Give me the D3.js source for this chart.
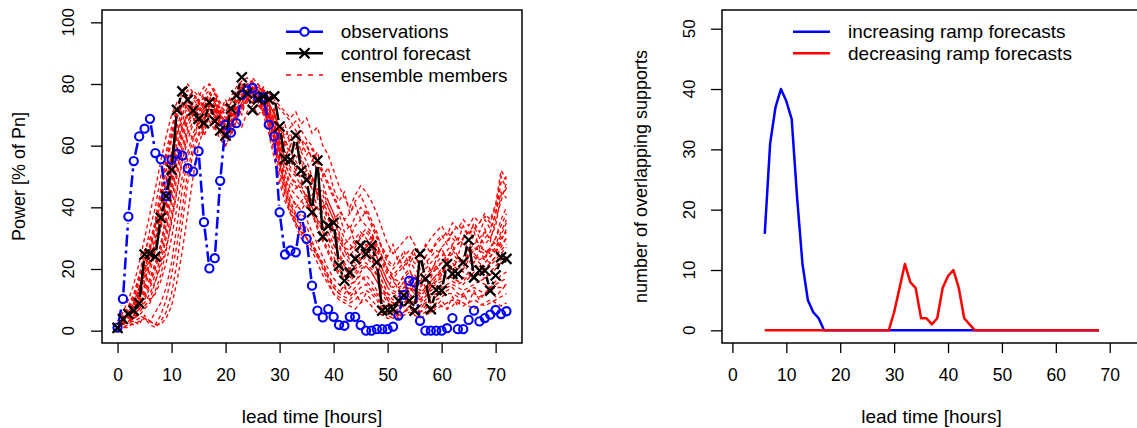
<!DOCTYPE html>
<html>
<head>
<meta charset="utf-8">
<script src="https://cdn.jsdelivr.net/npm/d3@7"></script>
<style>
body { margin: 0; background: #fff; }
svg { display: block; font-family: "Liberation Sans", Arial, Helvetica, sans-serif; }
</style>
</head>
<body>
<script>
// lead times (hours) for the left panel
var leadTimes = d3.range(0, 73);

// observed power, % of Pn
var observations = [1, 10.3, 37, 55, 63, 65.5, 68.7, 57.6, 55.6, 43.6,
    55.4, 57.4, 56.8, 52.7, 51.6, 58.2, 35.2, 20.2, 23.5, 48.6,
    66.8, 64.2, 67.3, 76.5, 77.9, 78.7, 75.7, 75.7, 66.8, 63,
    38.4, 24.7, 26, 25.4, 37.3, 29.8, 14.6, 6.5, 4.3, 7,
    4.5, 1.9, 1.6, 4.5, 4.5, 1.8, 0, 0, 0.5, 0.5,
    0.5, 1.3, 4.9, 11.6, 16.2, 15.7, 3.2, 0, 0, 0,
    0, 0.8, 4.1, 0.5, 0.5, 3.5, 6.5, 3, 4.1, 5.2,
    6.7, 5.4, 6.3];

// control forecast
var controlForecast = [0.9, 3.8, 5.4, 6.5, 8.9, 24.7, 25, 24, 36.6, 43.6,
    52.2, 71.6, 77.6, 74.9, 71.4, 68.7, 67.3, 74, 68, 64.9,
    63.3, 72, 76.3, 82.2, 77, 71.6, 75, 76, 75, 76,
    66.2, 55.7, 55.4, 63.3, 51.9, 48.9, 38.4, 55.2, 30.5, 34,
    35, 21.1, 16.2, 18.9, 23.3, 27.6, 24.9, 27.6, 22.2, 6.5,
    6.7, 7, 9.7, 11.4, 9.7, 6.5, 24.9, 16.8, 7, 13.2,
    13, 21.6, 18.4, 18.4, 22.2, 29.4, 17.3, 19.5, 19.5, 13,
    17.9, 23.8, 23.3];

// ensemble members (read approximately from the band)
var ensembleMembers = [
  [2,4,7,10,16,24,33,40,50,58, 66,72,76,78,75,73,76,78,74,70, 72,75,78,80,79,78,79,77,74,70,
   66,63,66,68,65,62,60,55,52,48, 44,40,36,38,42,44,40,36,32,26, 22,20,22,24,26,24,22,24,26,28,
   30,32,30,28,30,32,34,30,28,30, 34,44,46],
  [0,1,2,2,3,4,3,2,5,10, 18,28,40,52,60,64,66,70,68,64, 60,64,68,72,74,76,74,72,68,62,
   55,48,42,38,34,30,28,25,20,16, 12,10,9,8,7,9,10,8,6,5, 4,4,5,6,7,6,5,6,8,9,
   8,7,8,10,9,8,7,8,9,10, 9,8,9],
  [1,3,5,8,12,18,24,30,38,46, 56,64,70,74,73,70,72,75,72,68, 67,71,74,76,78,79,77,76,73,68,
   60,54,50,48,46,44,40,36,34,30, 26,22,20,18,20,22,24,22,18,14, 10,9,10,12,14,12,10,12,14,16,
   18,20,22,20,21,22,24,22,20,22, 24,26,28],
  [2,5,8,12,18,26,30,34,42,52, 62,70,74,72,69,66,68,72,70,66, 64,66,70,74,76,77,78,74,70,64,
   58,52,46,44,42,40,44,46,42,38, 32,28,24,26,30,32,30,27,24,20, 16,14,15,18,20,16,14,16,18,20,
   22,24,26,24,22,24,26,28,26,24, 26,30,32],
  [1,2,4,6,9,13,17,22,28,36, 46,56,64,70,74,75,73,70,66,62, 60,63,68,72,75,76,74,70,64,56,
   48,42,38,35,32,30,28,24,22,18, 15,13,12,14,16,18,16,14,12,9, 7,6,7,9,10,9,8,9,11,12,
   13,14,15,14,13,14,15,16,15,14, 16,18,19],
  [1,3,6,9,14,20,26,32,40,48, 58,66,72,76,77,74,72,74,76,72, 70,72,76,79,80,80,79,78,76,74,
   72,70,68,65,62,60,56,52,48,42, 38,32,28,30,34,36,34,32,28,24, 20,18,20,22,24,22,20,22,24,26,
   25,24,26,28,30,32,30,28,30,32, 38,48,50],
  [0,2,3,5,7,10,14,18,24,32, 42,52,60,66,70,72,74,76,73,69, 68,72,75,78,80,78,76,74,70,65,
   58,52,48,46,48,50,46,40,36,32, 28,24,21,20,24,28,26,24,20,16, 12,10,11,13,16,14,12,13,15,17,
   19,21,20,18,20,23,22,20,22,24, 26,28,30],
  [1,2,3,4,6,8,10,12,16,22, 30,40,50,58,64,68,70,72,70,67, 64,66,70,73,75,75,73,71,68,62,
   54,46,40,36,38,36,32,28,24,20, 17,15,14,12,14,16,18,16,13,10, 8,6,5,6,8,7,6,7,9,10,
   11,12,12,11,12,13,12,11,12,13, 14,14,15],
  [2,4,6,9,13,19,26,34,44,54, 63,69,73,75,72,69,71,74,71,67, 66,69,72,76,77,76,75,73,70,66,
   62,58,55,52,49,46,42,39,40,42, 38,34,30,28,26,25,27,29,26,22, 18,16,14,15,17,18,16,18,20,22,
   24,26,28,30,28,26,28,30,32,30, 28,32,36],
  [1,2,4,5,8,11,15,20,26,34, 44,54,62,68,71,72,74,77,75,71, 69,70,73,75,76,78,80,77,72,66,
   60,55,52,50,47,43,38,34,30,26, 22,19,17,16,18,20,21,19,16,12, 9,8,9,11,12,10,9,11,13,14,
   15,17,18,16,15,17,19,18,17,18, 20,22,24],
  [1,2,3,3,4,4,3,2,2,4, 8,16,26,38,50,60,66,70,72,70, 66,68,72,76,78,77,75,72,66,58,
   50,44,38,34,30,28,26,22,18,15, 12,11,10,9,10,12,13,12,10,7, 5,4,4,5,6,5,4,5,6,7,
   8,9,10,9,8,9,10,9,8,9, 10,11,12],
  [2,4,7,11,17,22,28,36,46,56, 64,71,78,80,77,74,77,80,78,74, 73,76,79,81,82,80,78,76,72,68,
   64,60,58,56,58,55,50,46,44,40, 36,31,27,24,27,30,32,30,27,23, 19,17,19,21,23,20,18,20,22,24,
   27,29,32,34,33,31,33,35,37,35, 40,50,46],
  [1,3,4,6,10,14,19,26,33,40, 48,58,66,71,75,77,75,73,70,65, 63,67,71,74,77,79,78,75,71,67,
   63,60,62,60,56,52,48,44,40,36, 33,30,26,23,22,24,26,25,22,18, 14,12,12,14,15,13,11,13,15,16,
   17,19,21,22,24,26,25,23,24,26, 30,36,40],
  [0,1,2,4,5,7,9,13,18,26, 36,46,56,64,68,70,71,73,72,68, 65,67,71,74,76,77,76,74,70,64,
   57,50,44,40,42,44,40,36,32,28, 24,20,18,17,19,21,22,20,18,14, 11,9,8,9,11,10,8,10,12,13,
   14,15,16,15,16,18,17,16,17,19, 21,23,24],
  [2,3,5,8,11,16,22,28,35,42, 52,61,67,70,69,67,69,72,69,64, 62,65,69,73,75,74,73,72,69,64,
   59,54,50,47,45,42,38,35,33,30, 28,25,22,20,21,23,25,23,20,16, 12,11,12,14,16,15,13,14,16,18,
   20,22,23,22,23,25,27,26,25,27, 30,34,38],
  [1,2,5,7,9,12,16,21,28,38, 48,57,64,68,70,71,73,75,74,70, 68,71,75,78,79,78,77,76,74,70,
   66,62,58,55,52,49,46,43,38,34, 30,27,24,22,23,25,28,27,24,20, 16,13,12,13,14,13,12,14,16,18,
   19,20,21,20,19,21,23,24,23,22, 24,27,30],
  [3,6,10,15,22,30,38,46,55,63, 70,74,72,76,70,74,68,73,77,71, 75,70,76,80,76,81,77,79,73,71,
   64,67,60,64,58,61,55,58,50,53, 46,42,45,38,41,36,39,34,30,27, 24,28,22,26,21,25,20,24,19,23,
   27,22,28,24,30,26,32,27,33,29, 36,42,48],
  [1,2,5,4,8,12,10,16,22,30, 38,50,58,65,62,68,64,70,66,72, 65,69,73,70,76,74,78,75,70,72,
   62,56,60,52,55,48,50,44,46,40, 36,38,32,34,28,30,26,31,24,18, 14,17,13,16,12,15,18,14,17,21,
   18,22,19,24,21,25,22,26,23,27, 25,29,33],
  [0,1,1,3,2,5,3,6,9,14, 22,34,46,56,62,66,63,68,65,69, 62,64,68,66,71,73,70,72,66,60,
   52,45,39,35,31,34,29,25,22,18, 14,12,15,11,13,9,12,10,8,6, 5,7,4,6,8,5,7,9,6,8,
   10,7,11,8,12,9,13,10,12,14, 11,13,15],
  [2,3,6,8,13,17,23,29,37,45, 55,63,70,75,78,76,79,80,77,73, 71,74,77,79,78,82,80,78,77,75,
   73,71,69,71,67,69,64,66,60,57, 52,47,43,40,44,47,45,42,38,33, 28,25,27,29,31,28,25,27,30,32,
   34,31,35,33,36,34,37,35,38,36, 41,52,49],
  [1,3,4,5,5,4,2,1,3,6, 12,22,35,48,58,63,67,71,70,67, 64,66,70,74,77,76,74,71,67,61,
   54,47,41,37,33,30,27,24,21,17, 14,12,11,10,12,14,15,13,11,8, 6,5,6,8,9,7,6,8,10,11,
   12,13,14,12,11,13,14,13,12,14, 15,16,17],
  [2,4,6,9,14,20,27,35,42,49, 57,64,68,73,71,75,72,77,74,70, 68,72,74,77,75,79,76,78,72,69,
   65,61,64,59,62,57,59,54,51,47, 43,39,36,33,37,40,38,35,31,27, 23,21,24,20,23,27,24,28,25,29,
   31,28,32,29,34,31,35,32,36,33, 38,45,43],
  [1,2,3,5,7,9,12,16,21,27, 35,45,55,62,67,70,72,74,71,68, 66,68,71,73,75,77,76,73,69,63,
   56,49,44,41,39,42,38,33,29,25, 21,18,16,15,16,19,21,19,16,13, 10,8,9,12,14,12,10,11,14,15,
   16,18,17,16,17,19,21,20,19,21, 23,25,27],
  [1,3,5,7,11,15,21,27,34,41, 50,59,66,70,72,72,70,72,73,69, 67,70,74,76,78,77,75,73,70,66,
   61,56,53,51,50,52,49,45,41,37, 33,29,27,26,28,31,33,31,28,24, 20,17,16,17,19,17,15,17,19,21,
   22,23,25,23,22,24,26,27,26,25, 27,31,35]
];

// right panel: number of overlapping supports per lead time
var rampHours = d3.range(6, 69);
var increasingRamps = [16, 31, 37, 40, 38, 35, 22, 11, 5, 3, 2, 0,
    0,0,0,0,0,0,0,0,0,0, 0,0,0,0,0,0,0,0,0,0, 0,0,0,0,0,0,0,0,0,0,
    0,0,0,0,0,0,0,0,0,0, 0,0,0,0,0,0,0,0,0,0, 0];
var decreasingRamps = [0,0,0,0,0,0,0,0,0,0, 0,0,0,0,0,0,0,0,0,0, 0,0,0,0,
    3, 7, 11, 8, 7, 2, 2, 1, 2, 7, 9, 10, 7, 2, 1,
    0,0,0,0,0,0,0,0,0,0, 0,0,0,0,0,0,0,0,0,0, 0,0,0,0];

var timeTicks = [0, 10, 20, 30, 40, 50, 60, 70];
var powerTicks = [0, 20, 40, 60, 80, 100];
var rampTicks = [0, 10, 20, 30, 40, 50];

(function() {
    var svg = d3.select("body").append("svg")
        .attr("width", 1137)
        .attr("height", 428);

    // panel geometry
    var plotTop = 10, plotBottom = 343;
    var xL = d3.scaleLinear().domain([-2.88, 74.88]).range([102, 522]);
    var yL = d3.scaleLinear().domain([-4, 104]).range([plotBottom, plotTop]);
    var xR = d3.scaleLinear().domain([-1.93, 75.8]).range([722, 1141]);
    var yR = d3.scaleLinear().domain([-2.1, 53.1]).range([plotBottom, plotTop]);

    function drawAxes(xs, ys, yTicks, yTitle, yTickX, yTitleX) {
        var g = svg.append("g");
        var x0 = xs.range()[0], x1 = xs.range()[1];

        g.append("g")
            .attr("transform", "translate(0," + plotBottom + ")")
            .call(d3.axisBottom(xs).tickValues(timeTicks).tickSize(10).tickPadding(16))
            .call(function(a) {
                a.select(".domain").remove();
                a.selectAll("line").attr("stroke-width", 1.3);
                a.selectAll("text").attr("font-size", 17.5).attr("fill", "#000");
            })
            .attr("font-family", null);

        g.append("g")
            .attr("transform", "translate(" + x0 + ",0)")
            .call(d3.axisLeft(ys).tickValues(yTicks).tickSize(11).tickFormat(""))
            .call(function(a) {
                a.select(".domain").remove();
                a.selectAll("line").attr("stroke-width", 1.3);
            });

        g.selectAll(null).data(yTicks).enter().append("text")
            .attr("transform", function(d) { return "translate(" + yTickX + "," + ys(d) + ") rotate(-90)"; })
            .attr("text-anchor", "middle")
            .attr("font-size", 17)
            .text(String);

        g.append("rect")
            .attr("x", x0).attr("y", plotTop)
            .attr("width", x1 - x0).attr("height", plotBottom - plotTop)
            .attr("fill", "none").attr("stroke", "#000").attr("stroke-width", 1.5);

        g.append("text")
            .attr("x", (x0 + x1) / 2).attr("y", 423)
            .attr("text-anchor", "middle").attr("font-size", 19)
            .text("lead time [hours]");

        g.append("text")
            .attr("transform", "translate(" + yTitleX + "," + ((plotTop + plotBottom) / 2) + ") rotate(-90)")
            .attr("text-anchor", "middle").attr("font-size", 18)
            .text(yTitle);
    }

    // line segments that stop short of the points (R type = "b")
    function gappedSegments(g, xs, ys, xv, yv, gap) {
        var segs = [];
        for (var i = 1; i < xv.length; i++) {
            var ax = xs(xv[i - 1]), ay = ys(yv[i - 1]), bx = xs(xv[i]), by = ys(yv[i]);
            var d = Math.hypot(bx - ax, by - ay);
            if (d <= 2 * gap) continue;
            var ux = (bx - ax) / d, uy = (by - ay) / d;
            segs.push([ax + ux * gap, ay + uy * gap, bx - ux * gap, by - uy * gap]);
        }
        return g.selectAll(null).data(segs).enter().append("line")
            .attr("x1", function(s) { return s[0]; }).attr("y1", function(s) { return s[1]; })
            .attr("x2", function(s) { return s[2]; }).attr("y2", function(s) { return s[3]; });
    }

    function crossPath(cx, cy, r) {
        return "M" + (cx - r) + "," + (cy - r) + "L" + (cx + r) + "," + (cy + r) +
            "M" + (cx - r) + "," + (cy + r) + "L" + (cx + r) + "," + (cy - r);
    }

    // ---- left panel ----
    drawAxes(xL, yL, powerTicks, "Power [% of Pn]", 74, 25);

    var plotL = svg.append("g");
    var memberLine = d3.line()
        .x(function(d, i) { return xL(leadTimes[i]); })
        .y(function(d) { return yL(d); });

    plotL.selectAll(".member").data(ensembleMembers).enter().append("path")
        .attr("class", "member")
        .attr("d", memberLine)
        .attr("fill", "none").attr("stroke", "#ff0000")
        .attr("stroke-width", 1.3).attr("stroke-dasharray", "4,3");

    gappedSegments(plotL, xL, yL, leadTimes, observations, 6.5)
        .attr("stroke", "#0000ff").attr("stroke-width", 2.5).attr("stroke-dasharray", "12,4,3,4");
    plotL.selectAll(".obs").data(observations).enter().append("circle")
        .attr("cx", function(d, i) { return xL(leadTimes[i]); })
        .attr("cy", function(d) { return yL(d); })
        .attr("r", 4.1).attr("fill", "none").attr("stroke", "#0000ff").attr("stroke-width", 2.1);

    gappedSegments(plotL, xL, yL, leadTimes, controlForecast, 6.5)
        .attr("stroke", "#000").attr("stroke-width", 2.5);
    plotL.selectAll(".ctrl").data(controlForecast).enter().append("path")
        .attr("d", function(d, i) { return crossPath(xL(leadTimes[i]), yL(d), 5); })
        .attr("stroke", "#000").attr("stroke-width", 2.3).attr("fill", "none");

    // left legend
    var legL = svg.append("g").attr("font-size", 19);
    var legItems = ["observations", "control forecast", "ensemble members"];
    var legY = [31.7, 53.3, 75];
    legL.append("line").attr("x1", 286).attr("x2", 323).attr("y1", legY[0]).attr("y2", legY[0])
        .attr("stroke", "#0000ff").attr("stroke-width", 2.5);
    legL.append("circle").attr("cx", 304.5).attr("cy", legY[0]).attr("r", 4.1)
        .attr("fill", "#fff").attr("stroke", "#0000ff").attr("stroke-width", 2.1);
    legL.append("line").attr("x1", 286).attr("x2", 323).attr("y1", legY[1]).attr("y2", legY[1])
        .attr("stroke", "#000").attr("stroke-width", 2.5);
    legL.append("path").attr("d", crossPath(304.5, legY[1], 5))
        .attr("stroke", "#000").attr("stroke-width", 2.3);
    legL.append("line").attr("x1", 286).attr("x2", 323).attr("y1", legY[2]).attr("y2", legY[2])
        .attr("stroke", "#ff0000").attr("stroke-width", 1.3).attr("stroke-dasharray", "5,6");
    legL.selectAll("text").data(legItems).enter().append("text")
        .attr("x", 340.7).attr("y", function(d, i) { return legY[i]; })
        .attr("dy", "0.35em").text(String);

    // ---- right panel ----
    drawAxes(xR, yR, rampTicks, "number of overlapping supports", 695, 647);

    var rampLine = d3.line()
        .x(function(d, i) { return xR(rampHours[i]); })
        .y(function(d) { return yR(d); });
    var plotR = svg.append("g");
    plotR.append("path").attr("d", rampLine(increasingRamps))
        .attr("fill", "none").attr("stroke", "#0000ff").attr("stroke-width", 2.5).attr("stroke-linejoin", "round");
    plotR.append("path").attr("d", rampLine(decreasingRamps))
        .attr("fill", "none").attr("stroke", "#ff0000").attr("stroke-width", 2.5).attr("stroke-linejoin", "round");

    var legR = svg.append("g").attr("font-size", 19);
    var rampNames = ["increasing ramp forecasts", "decreasing ramp forecasts"];
    var rampColors = ["#0000ff", "#ff0000"];
    legR.selectAll("line").data(rampNames).enter().append("line")
        .attr("x1", 793).attr("x2", 830)
        .attr("y1", function(d, i) { return legY[i]; }).attr("y2", function(d, i) { return legY[i]; })
        .attr("stroke", function(d, i) { return rampColors[i]; }).attr("stroke-width", 2.5);
    legR.selectAll("text").data(rampNames).enter().append("text")
        .attr("x", 848).attr("y", function(d, i) { return legY[i]; })
        .attr("dy", "0.35em").text(String);
})();
</script>
</body>
</html>
